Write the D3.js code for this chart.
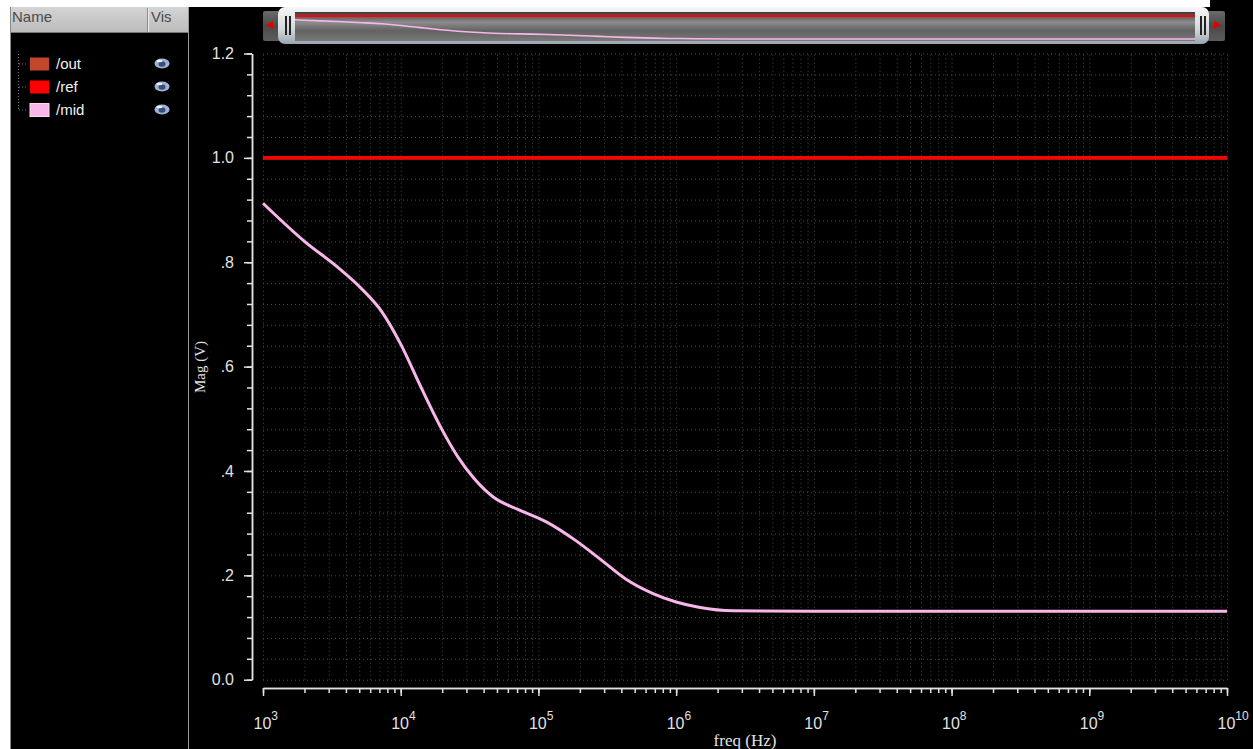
<!DOCTYPE html>
<html>
<head>
<meta charset="utf-8">
<script src="https://cdn.jsdelivr.net/npm/d3@7"></script>
<style>
  html, body { margin: 0; padding: 0; background: #000; overflow: hidden; }
</style>
</head>
<body>
<svg id="chart"></svg>
<script>
const signalNames = ['/out', '/ref', '/mid'];
const signalColors = ['#c2462b', '#ff0000', '#f8b6ea'];

const midFreqs = [1e3, 2e3, 3.5e3, 5.25e3, 7.3e3, 1e4, 1.4e4, 1.95e4, 2.6e4, 3.4e4, 4.7e4,
  7.3e4, 1.15e5, 1.88e5, 2.75e5, 4.3e5, 6.8e5, 1e6, 1.46e6, 2.6e6, 1e7, 1e8, 1e9, 1e10];
const midMag = [0.913, 0.840, 0.790, 0.748, 0.705, 0.643, 0.561, 0.484, 0.427, 0.386, 0.350,
  0.325, 0.302, 0.266, 0.233, 0.193, 0.165, 0.149, 0.139, 0.132, 0.131, 0.131, 0.131, 0.131];

const refFreqs = [1e3, 1e10];
const refMag = [1.0, 1.0];
const outFreqs = [1e3, 1e10];
const outMag = [1.0, 1.0]; // hidden under /ref

const yMajorTicks = [0, 0.2, 0.4, 0.6, 0.8, 1.0, 1.2];
const yTickLabels = ['0.0', '.2', '.4', '.6', '.8', '1.0', '1.2'];
const xMajorTicks = [1e3, 1e4, 1e5, 1e6, 1e7, 1e8, 1e9, 1e10];
const xTickExps = ['3', '4', '5', '6', '7', '8', '9', '10'];

const width = 1253;
const height = 749;

const svg = d3.select('#chart').attr('width', width).attr('height', height);

// ---- background / frame ----
svg.append('rect').attr('width', width).attr('height', height).attr('fill', '#000');
svg.append('rect').attr('x', 0).attr('y', 0).attr('width', 1210).attr('height', 7).attr('fill', '#fff');
svg.append('rect').attr('x', 0).attr('y', 0).attr('width', 10).attr('height', height).attr('fill', '#fff');
svg.append('line').attr('x1', 10.5).attr('x2', 10.5).attr('y1', 7).attr('y2', height)
  .attr('stroke', '#8a8a8a');
svg.append('line').attr('x1', 188.5).attr('x2', 188.5).attr('y1', 7).attr('y2', height)
  .attr('stroke', '#9a9a9a');

const defs = svg.append('defs');

// ---- left signal list ----
const hdrGrad = defs.append('linearGradient').attr('id', 'hdr').attr('x1', 0).attr('y1', 0).attr('x2', 0).attr('y2', 1);
hdrGrad.append('stop').attr('offset', 0).attr('stop-color', '#d4d4d4');
hdrGrad.append('stop').attr('offset', 1).attr('stop-color', '#bcbcbc');

const panel = svg.append('g').attr('class', 'panel');
panel.append('rect').attr('x', 11).attr('y', 7).attr('width', 177).attr('height', 25).attr('fill', 'url(#hdr)');
panel.append('line').attr('x1', 11).attr('x2', 188).attr('y1', 32.5).attr('y2', 32.5).attr('stroke', '#777');
panel.append('line').attr('x1', 147.5).attr('x2', 147.5).attr('y1', 8).attr('y2', 32).attr('stroke', '#8c8c8c');
panel.append('line').attr('x1', 148.5).attr('x2', 148.5).attr('y1', 8).attr('y2', 32).attr('stroke', '#eee');
panel.append('text').attr('x', 12).attr('y', 22).text('Name')
  .attr('font-family', 'Liberation Sans, Arial, sans-serif').attr('font-size', 15).attr('fill', '#4a4a4a');
panel.append('text').attr('x', 151).attr('y', 22).text('Vis')
  .attr('font-family', 'Liberation Sans, Arial, sans-serif').attr('font-size', 15).attr('fill', '#4a4a4a');

// tree guide lines
panel.append('line').attr('x1', 18.5).attr('x2', 18.5).attr('y1', 54).attr('y2', 110)
  .attr('stroke', '#777').attr('stroke-dasharray', '1,2');

const rowY = d3.scalePoint().domain(signalNames).range([63.5, 109.5]);
const rows = panel.selectAll('g.row').data(signalNames).join('g').attr('class', 'row')
  .attr('transform', d => `translate(0,${rowY(d)})`);
rows.append('line').attr('x1', 19).attr('x2', 27).attr('y1', 0.5).attr('y2', 0.5)
  .attr('stroke', '#777').attr('stroke-dasharray', '1,2');
rows.append('rect').attr('x', 30).attr('y', -6).attr('width', 19).attr('height', 13)
  .attr('fill', (d, i) => signalColors[i])
  .attr('stroke', (d, i) => i === 2 ? '#ffd6f4' : 'none');
rows.append('text').attr('x', 56).attr('y', 5.5).text(d => d)
  .attr('font-family', 'Liberation Sans, Arial, sans-serif').attr('font-size', 15).attr('fill', '#f0f0f0');
// "visible" eye
rows.append('ellipse').attr('cx', 162).attr('cy', 0).attr('rx', 7.5).attr('ry', 5).attr('fill', '#9fb3d8');
rows.append('ellipse').attr('cx', 162).attr('cy', 0.5).attr('rx', 3.5).attr('ry', 2.8).attr('fill', '#3a4c74');
rows.append('ellipse').attr('cx', 159.5).attr('cy', -2.5).attr('rx', 3).attr('ry', 1.2).attr('fill', '#eef3fb');

// ---- scales ----
const x = d3.scaleLog().domain([1e3, 1e10]).range([263, 1227]);
const y = d3.scaleLinear().domain([0, 1.2]).range([679.7, 53.5]);

const yMinorTicks = d3.range(0, 1.2001, 0.04);

// ---- dotted grid ----
const gridColor = '#4a4a4a';
const gx = svg.append('g').attr('class', 'grid-x')
  .attr('transform', `translate(0,${y(0)})`)
  .call(d3.axisBottom(x).tickValues(x.ticks()).tickSize(-(y(0) - y(1.2))).tickFormat(''));
gx.select('.domain').remove();
gx.selectAll('line').attr('stroke', gridColor).attr('stroke-dasharray', '1,3');

const gy = svg.append('g').attr('class', 'grid-y')
  .attr('transform', `translate(${x(1e3)},0)`)
  .call(d3.axisLeft(y).tickValues(yMinorTicks).tickSize(-(x(1e10) - x(1e3))).tickFormat(''));
gy.select('.domain').remove();
gy.selectAll('line').attr('stroke', gridColor).attr('stroke-dasharray', '1,3');

// ---- axes ----
const axisColor = '#e2e2e2';
const tickFont = 'Liberation Sans, Arial, sans-serif';

const yMinorAxis = svg.append('g').attr('transform', 'translate(252,0)')
  .call(d3.axisLeft(y).tickValues(yMinorTicks).tickSize(5).tickSizeOuter(0).tickFormat(''));
const yMajorAxis = svg.append('g').attr('transform', 'translate(252,0)')
  .call(d3.axisLeft(y).tickValues(yMajorTicks).tickSize(8).tickSizeOuter(0).tickPadding(10)
    .tickFormat((d, i) => yTickLabels[i]));
[yMinorAxis, yMajorAxis].forEach(g => {
  g.selectAll('line').attr('stroke', axisColor).attr('stroke-width', 1.5);
  g.select('.domain').attr('stroke', axisColor).attr('stroke-width', 1.5);
});
yMajorAxis.selectAll('text').attr('fill', axisColor).attr('font-family', tickFont).attr('font-size', 16);

const xMinorAxis = svg.append('g').attr('transform', 'translate(0,688)')
  .call(d3.axisBottom(x).tickValues(x.ticks()).tickSize(5).tickSizeOuter(0).tickFormat(''));
const xMajorAxis = svg.append('g').attr('transform', 'translate(0,688)')
  .call(d3.axisBottom(x).tickValues(xMajorTicks).tickSize(8).tickSizeOuter(0).tickFormat(''));
[xMinorAxis, xMajorAxis].forEach(g => {
  g.selectAll('line').attr('stroke', axisColor).attr('stroke-width', 1.5);
  g.select('.domain').attr('stroke', axisColor).attr('stroke-width', 1.5);
});
xMajorAxis.selectAll('.tick text').remove();
const xLabels = xMajorAxis.selectAll('.tick').append('text')
  .attr('x', -10).attr('y', 41).attr('dy', 0)
  .attr('text-anchor', 'start')
  .attr('fill', axisColor).attr('font-family', tickFont).attr('font-size', 16);
xLabels.append('tspan').text('10');
xLabels.append('tspan').attr('dy', -9).attr('font-size', 12).text((d, i) => xTickExps[i]);

// axis titles
svg.append('text').attr('x', 745).attr('y', 746).attr('text-anchor', 'middle')
  .attr('font-family', 'Liberation Serif, Times New Roman, serif').attr('font-size', 17)
  .attr('fill', axisColor).text('freq (Hz)');
svg.append('text').attr('transform', 'translate(205,367) rotate(-90)').attr('text-anchor', 'middle')
  .attr('font-family', 'Liberation Serif, Times New Roman, serif').attr('font-size', 15)
  .attr('fill', axisColor).text('Mag (V)');

// ---- traces ----
const line = d3.line().x(d => x(d[0])).y(d => y(d[1])).curve(d3.curveMonotoneX);
const traces = [
  { pts: d3.zip(outFreqs, outMag), color: signalColors[0], w: 3.5 },
  { pts: d3.zip(midFreqs, midMag), color: signalColors[2], w: 3 },
  { pts: d3.zip(refFreqs, refMag), color: signalColors[1], w: 3.5 },
];
svg.append('g').attr('class', 'traces').selectAll('path').data(traces).join('path')
  .attr('d', d => line(d.pts))
  .attr('fill', 'none')
  .attr('stroke', d => d.color)
  .attr('stroke-width', d => d.w);

// ---- zoom slider with overview thumbnail ----
const frameGrad = defs.append('linearGradient').attr('id', 'frame').attr('x1', 0).attr('y1', 0).attr('x2', 0).attr('y2', 1);
frameGrad.append('stop').attr('offset', 0).attr('stop-color', '#f4f6f8');
frameGrad.append('stop').attr('offset', 0.6).attr('stop-color', '#d4d8dc');
frameGrad.append('stop').attr('offset', 1).attr('stop-color', '#9aa4ae');

const barGrad = defs.append('linearGradient').attr('id', 'bar').attr('x1', 0).attr('y1', 0).attr('x2', 0).attr('y2', 1);
barGrad.append('stop').attr('offset', 0).attr('stop-color', '#3a3a3a');
barGrad.append('stop').attr('offset', 0.35).attr('stop-color', '#8c8c8c');
barGrad.append('stop').attr('offset', 0.65).attr('stop-color', '#626262');
barGrad.append('stop').attr('offset', 1).attr('stop-color', '#7a7a7a');

const btnGrad = defs.append('linearGradient').attr('id', 'btn').attr('x1', 0).attr('y1', 0).attr('x2', 0).attr('y2', 1);
btnGrad.append('stop').attr('offset', 0).attr('stop-color', '#6a6a6a');
btnGrad.append('stop').attr('offset', 0.5).attr('stop-color', '#4a4a4a');
btnGrad.append('stop').attr('offset', 1).attr('stop-color', '#5c5c5c');

const slider = svg.append('g').attr('class', 'slider');
slider.append('rect').attr('x', 263).attr('y', 11).attr('width', 17).attr('height', 30).attr('rx', 2)
  .attr('fill', 'url(#btn)');
slider.append('rect').attr('x', 1207).attr('y', 11).attr('width', 18).attr('height', 30).attr('rx', 2)
  .attr('fill', 'url(#btn)');
slider.append('path').attr('d', 'M266,25 L273,21 L273,29 Z').attr('fill', '#e00000');
slider.append('path').attr('d', 'M1221,25 L1214,21 L1214,29 Z').attr('fill', '#e00000');
slider.append('rect').attr('x', 278).attr('y', 7).attr('width', 931).attr('height', 37).attr('rx', 7)
  .attr('fill', 'url(#frame)');
slider.append('rect').attr('x', 295).attr('y', 12).attr('width', 900).attr('height', 29)
  .attr('fill', 'url(#bar)');
// grips
[285, 289, 1200, 1204].forEach(gxp => {
  slider.append('rect').attr('x', gxp).attr('y', 16).attr('width', 2).attr('height', 19).attr('fill', '#222');
});

defs.append('clipPath').attr('id', 'thumbClip')
  .append('rect').attr('x', 295).attr('y', 12).attr('width', 900).attr('height', 29);
const yThumb = d3.scaleLinear().domain([0, 1]).range([42.5, 16]);
const thumbLine = d3.line().x(d => x(d[0])).y(d => yThumb(d[1])).curve(d3.curveMonotoneX);
slider.append('g').attr('clip-path', 'url(#thumbClip)').selectAll('path').data(traces).join('path')
  .attr('d', d => thumbLine(d.pts))
  .attr('fill', 'none')
  .attr('stroke', d => d.color)
  .attr('stroke-width', (d, i) => i === 1 ? 1.6 : 2);
</script>
</body>
</html>
